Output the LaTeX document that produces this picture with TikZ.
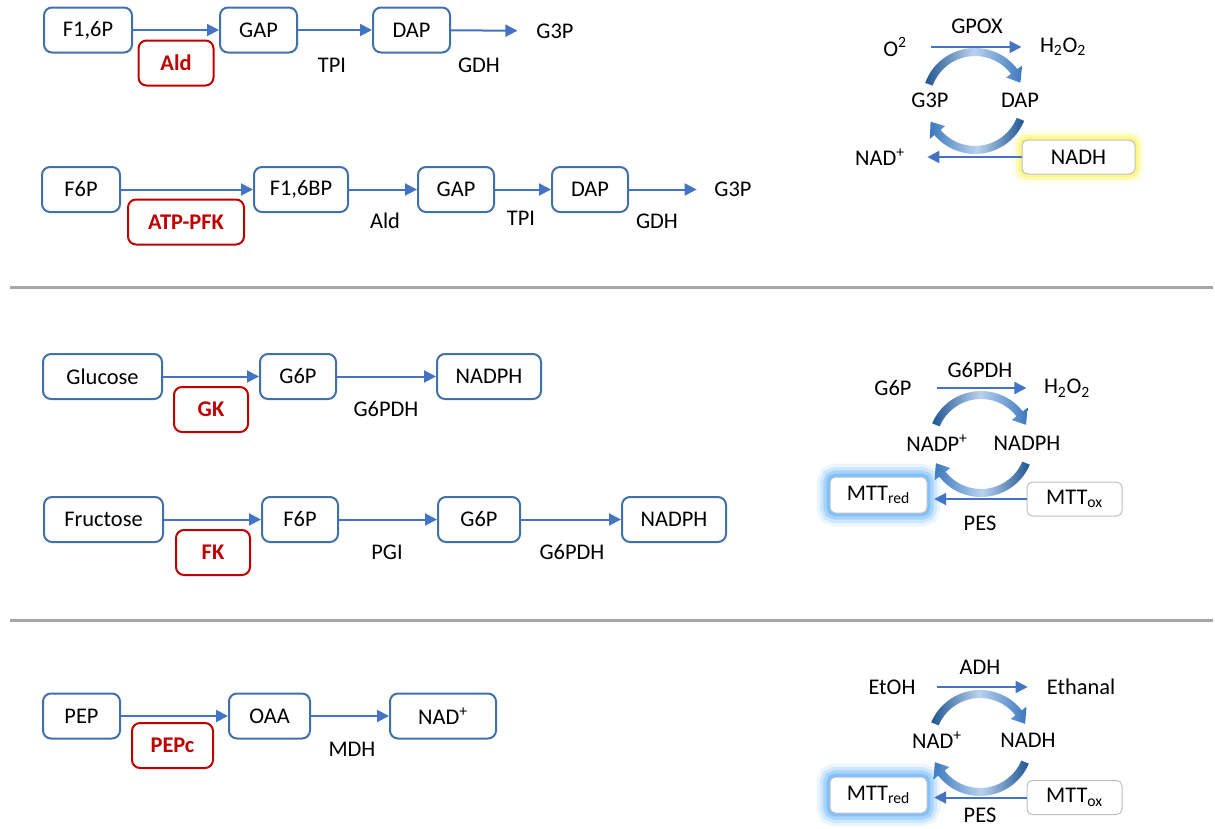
\documentclass[tikz,border=0pt]{standalone}
\usepackage{fontspec}
\setmainfont{Carlito}
\usetikzlibrary{arrows.meta,calc}

\definecolor{boxblue}{RGB}{65,113,170}
\definecolor{arrblue}{RGB}{68,114,196}
\definecolor{enzred}{RGB}{192,0,0}
\definecolor{softgray}{RGB}{191,191,191}
\definecolor{sepgray}{RGB}{166,166,166}
\definecolor{darkcyc}{RGB}{30,85,145}
\definecolor{midcyc}{RGB}{60,120,190}
\definecolor{lightcyc}{RGB}{185,210,238}
\definecolor{glowblue}{RGB}{90,175,250}
\definecolor{glowyellow}{RGB}{250,245,90}

\newcommand{\lblfont}{\fontsize{16.8}{19}\selectfont}
% tapered cycle arrow: centre, start angle, end angle, left/right colours
\newcommand{\cyclearrow}[5]{%
  \shade[left color=#4,right color=#5,middle color=lightcyc]
    ($(#1)+(#2:53)$) arc[start angle=#2,end angle=#3,radius=53]
    -- ($(#1)+(#3:59)$) -- ($(#1)+(#3+15:49)$) -- ($(#1)+(#3:39)$)
    -- ($(#1)+(#3:45)$) arc[start angle=#3,end angle=#2,radius=45] -- cycle ;}

\tikzset{every picture/.style={line width=0.75pt}}

\begin{document}
\begin{tikzpicture}[x=0.75pt,y=0.75pt,yscale=-1,xscale=1,
  box/.style={draw=boxblue,line width=1.5pt,rounded corners=6pt,fill=white,minimum width=#1*0.75pt,minimum height=33.75pt,inner sep=0pt,font=\lblfont},
  redbox/.style={box=#1,draw=enzred,text=enzred,font=\lblfont\bfseries},
  mttbox/.style={draw=softgray,line width=0.75pt,rounded corners=4pt,fill=white,minimum width=#1*0.75pt,minimum height=25.5pt,inner sep=0pt,font=\lblfont},
  txt/.style={inner sep=0pt,font=\lblfont},
  flow/.style={draw=arrblue,line width=1.5pt,-{Triangle[length=9pt,width=9pt]}},
  blueglow/.style={preaction={draw=glowblue,draw opacity=0.12,line width=20pt},preaction={draw=glowblue,draw opacity=0.2,line width=15pt},preaction={draw=glowblue,draw opacity=0.35,line width=10pt},preaction={draw=glowblue,draw opacity=0.5,line width=5pt}},
  yellowglow/.style={preaction={draw=glowyellow,draw opacity=0.15,line width=14pt},preaction={draw=glowyellow,draw opacity=0.3,line width=9pt},preaction={draw=glowyellow,draw opacity=0.55,line width=5pt}},
  sepline/.style={draw=sepgray,line width=2.25pt}]
\useasboundingbox (0,0) rectangle (1215,829);

%Straight Lines (separators)
\draw[sepline] (10,287) -- (1213,287) ;
\draw[sepline] (10,620) -- (1213,620) ;

%Shape: Rounded Rectangle -- row 1
\node[box=88] (f16p) at (88,30) {F1,6P};
\node[redbox=75] (ald) at (176,63) {Ald};
\node[box=77] (gapa) at (258.5,30) {GAP};
\node[box=77] (dapa) at (411.5,30) {DAP};
% Text Node
\node[txt] (tpia) at (332,65) {TPI};
\node[txt] (gdha) at (479,65) {GDH};
\node[txt] (g3pa) at (555,31) {G3P};
%Straight Lines
\draw[flow] (f16p) -- (gapa) ;
\draw[flow] (gapa) -- (dapa) ;
\draw[flow,shorten >=13.9pt] (dapa) -- (g3pa) ;

%Shape: Rounded Rectangle -- row 2
\node[box=78] (f6pb) at (81,189.5) {F6P};
\node[redbox=116] (atppfk) at (186,222) {ATP-PFK};
\node[box=94] (f16bp) at (301,189.5) {F1,6BP};
\node[box=76] (gapb) at (456,189.5) {GAP};
\node[box=76] (dapb) at (590,189.5) {DAP};
% Text Node
\node[txt] (aldb) at (385,221) {Ald};
\node[txt] (tpib) at (521,218) {TPI};
\node[txt] (gdhb) at (657,221) {GDH};
\node[txt] (g3pb) at (733,189.5) {G3P};
%Straight Lines
\draw[flow] (f6pb) -- (f16bp) ;
\draw[flow] (f16bp) -- (gapb) ;
\draw[flow] (gapb) -- (dapb) ;
\draw[flow,shorten >=13pt] (dapb) -- (g3pb) ;

%Shape: Rounded Rectangle -- row 3
\node[box=119] (glc) at (102.5,376.5) {Glucose};
\node[redbox=74] (gk) at (211,409.5) {GK};
\node[box=76] (g6pc) at (298,376.5) {G6P};
\node[box=104] (nadphc) at (489,376.5) {NADPH};
% Text Node
\node[txt] (g6pdhc) at (386,409) {G6PDH};
%Straight Lines
\draw[flow] (glc) -- (g6pc) ;
\draw[flow] (g6pc) -- (nadphc) ;

%Shape: Rounded Rectangle -- row 4
\node[box=119] (fru) at (103.5,519.5) {Fructose};
\node[redbox=74] (fk) at (213,552.5) {FK};
\node[box=76] (f6pd) at (300,519.5) {F6P};
\node[box=82] (g6pd) at (479,519.5) {G6P};
\node[box=104] (nadphd) at (674,519.5) {NADPH};
% Text Node
\node[txt] (pgi) at (387,552) {PGI};
\node[txt] (g6pdhd) at (572,552) {G6PDH};
%Straight Lines
\draw[flow] (fru) -- (f6pd) ;
\draw[flow] (f6pd) -- (g6pd) ;
\draw[flow] (g6pd) -- (nadphd) ;

%Shape: Rounded Rectangle -- row 5
\node[box=77] (pep) at (81.5,716) {PEP};
\node[redbox=81] (pepc) at (172.5,745.5) {PEPc};
\node[box=81] (oaa) at (269.5,716) {OAA};
\node[box=106] (nade) at (443,716) {NAD\textsuperscript{+}};
% Text Node
\node[txt] (mdh) at (352,749) {MDH};
%Straight Lines
\draw[flow] (pep) -- (oaa) ;
\draw[flow] (oaa) -- (nade) ;

%Shape: Circular Arrow -- GPOX cycle
\coordinate (c1) at (975,101);
\cyclearrow{c1}{-160}{-37}{darkcyc}{midcyc}
\cyclearrow{c1}{22}{140}{midcyc}{darkcyc}
% Text Node
\node[txt] (gpox) at (977,26) {GPOX};
\node[txt] (o2) at (895,47) {O\textsuperscript{2}};
\node[txt] (h2o2a) at (1063,47) {H\textsubscript{2}O\textsubscript{2}};
\node[txt] (g3pc) at (930,100) {G3P};
\node[txt] (dapc) at (1020,100) {DAP};
\node[txt] (nadc) at (880,157) {NAD\textsuperscript{+}};
\node[mttbox=113,yellowglow] (nadhc) at (1078.5,157) {NADH};
%Straight Lines
\draw[flow,shorten <=18pt,shorten >=13.5pt] (o2) -- (h2o2a) ;
\draw[flow,shorten >=16.5pt] (nadhc) -- (nadc) ;

%Shape: Circular Arrow -- G6PDH cycle
\coordinate (c2) at (981,444);
\cyclearrow{c2}{-157}{-38}{darkcyc}{midcyc}
\cyclearrow{c2}{23}{142}{midcyc}{darkcyc}
% Text Node
\node[txt] (g6pdhr) at (980,370) {G6PDH};
\node[txt] (g6pr) at (893,388) {G6P};
\node[txt] (h2o2b) at (1067,388) {H\textsubscript{2}O\textsubscript{2}};
\node[txt] (nadpr) at (937,443) {NADP\textsuperscript{+}};
\node[txt] (nadphr) at (1027,443) {NADPH};
\node[mttbox=97,minimum height=27pt,blueglow] (mttredb) at (878.5,495) {MTT\textsubscript{red}};
\node[mttbox=95] (mttoxb) at (1074.5,499) {MTT\textsubscript{ox}};
\node[txt] (pesb) at (980,523) {PES};
%Straight Lines
\draw[flow,shorten <=18.4pt,shorten >=12.8pt] (g6pr) -- (h2o2b) ;
\draw[flow,shorten >=5pt] (mttoxb.west) -- (mttoxb.west -| mttredb.east) ;

%Shape: Circular Arrow -- ADH cycle
\coordinate (c3) at (980,743);
\cyclearrow{c3}{-157}{-38}{darkcyc}{midcyc}
\cyclearrow{c3}{23}{142}{midcyc}{darkcyc}
% Text Node
\node[txt] (adh) at (980,667) {ADH};
\node[txt] (etoh) at (892,687) {EtOH};
\node[txt] (ethanal) at (1081,687) {Ethanal};
\node[txt] (nadr) at (937,740) {NAD\textsuperscript{+}};
\node[txt] (nadhr) at (1028,740) {NADH};
\node[mttbox=97,minimum height=27pt,blueglow] (mttredc) at (878.5,795) {MTT\textsubscript{red}};
\node[mttbox=95] (mttoxc) at (1074.5,797.5) {MTT\textsubscript{ox}};
\node[txt] (pesc) at (980,815.5) {PES};
%Straight Lines
\draw[flow,shorten <=15.4pt,shorten >=14pt] (etoh) -- (ethanal) ;
\draw[flow,shorten >=5pt] (mttoxc.west) -- (mttoxc.west -| mttredc.east) ;

\end{tikzpicture}
\end{document}
